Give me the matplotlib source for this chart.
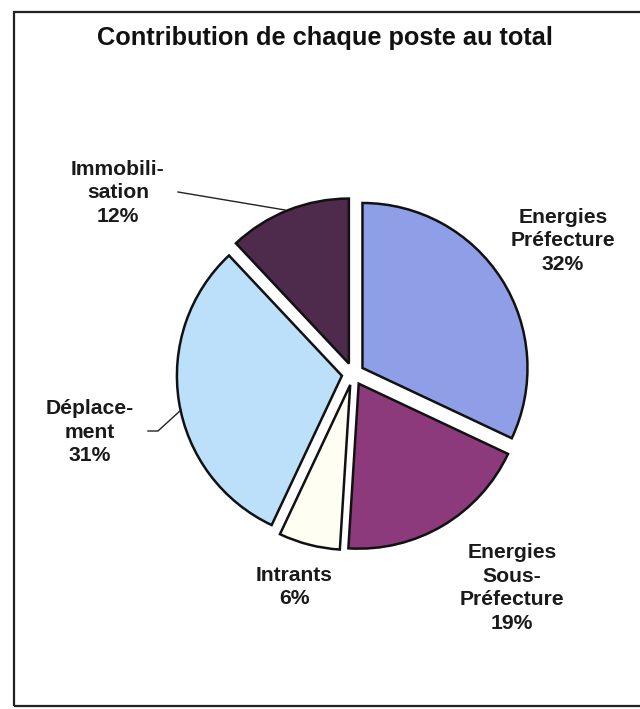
import matplotlib
matplotlib.use("Agg")
import matplotlib.pyplot as plt
from matplotlib.patches import Rectangle

title = "Contribution de chaque poste au total"
categories = ["Energies\nPréfecture", "Energies\nSous-\nPréfecture", "Intrants",
              "Déplace-\nment", "Immobili-\nsation"]
values = [32, 19, 6, 31, 12]
colors = ["#8E9FE8", "#8C3A7C", "#FFFEF3", "#BDE0FA", "#4E2A4C"]

W, H = 640, 709
fig = plt.figure(figsize=(W / 100, H / 100), dpi=100)
ax = fig.add_axes([0, 0, 1, 1])
ax.set_xlim(0, W)
ax.set_ylim(0, H)
ax.set_aspect("equal")
ax.axis("off")

# border frame
ax.add_patch(Rectangle((14, 3), 700, 694, fill=False, lw=1.6, ec="#222222"))

ax.text(325, H - 38, title, ha="center", va="center", fontsize=18.3,
        fontweight="bold", family="Liberation Sans", color="#111111")

cx, cy, R = 353, H - 374, 165
ax.pie(values, colors=colors, startangle=90, counterclock=False,
       center=(cx, cy), radius=R, explode=[0.068 * R] * len(values),
       wedgeprops=dict(edgecolor="#111111", linewidth=1.8))
ax.set_xlim(0, W)
ax.set_ylim(0, H)

label_pos = [(563, H - 241), (512, H - 588), (294, H - 587), (90, H - 432), (118, H - 193)]
for (x, y), cat, v in zip(label_pos, categories, values):
    ax.text(x, y, f"{cat}\n{v}%", ha="center", va="center", fontsize=15.2,
            fontweight="bold", family="Liberation Sans", color="#1a1a1a",
            linespacing=1.3)

# leader lines
ax.plot([178, 285], [H - 192, H - 210], color="#222222", lw=1)
ax.plot([148, 158, 181], [H - 431, H - 431, H - 410], color="#222222", lw=1)

fig.savefig("out.png", dpi=100)
